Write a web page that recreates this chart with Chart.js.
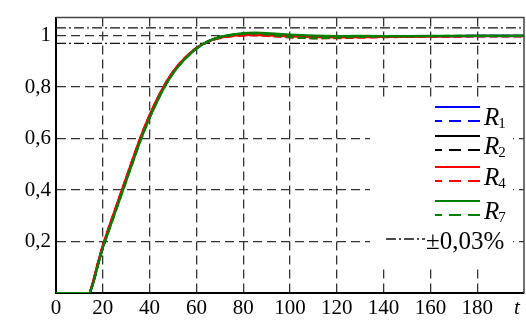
<!DOCTYPE html>
<html><head><meta charset="utf-8">
<script src="https://cdn.jsdelivr.net/npm/chart.js@4/dist/chart.umd.min.js"></script>
<style>html,body{margin:0;padding:0;background:#fff}canvas{display:block}</style>
</head><body>
<canvas id="c" width="526" height="323"></canvas>
<script>
// time axis samples
const tValues = [0,14.5,16,18,20,22.5,25,27.5,30,32.5,35,37.5,40,42.5,45,47.5,50,52.5,55,57.5,60,62.5,65,67.5,70,75,80,85,90,95,100,110,120,130,140,150,160,170,180,190,200];
const R1solid = [0,0,0.045,0.115,0.18,0.247,0.312,0.377,0.442,0.507,0.572,0.632,0.686,0.736,0.782,0.822,0.857,0.886,0.91,0.932,0.951,0.966,0.978,0.987,0.994,1.002,1.006,1.007,1.005,1.002,1.0,0.997,0.996,0.997,0.997,0.998,0.998,0.998,0.999,0.999,0.999];
const R1dashed = [0,0,0.045,0.115,0.18,0.247,0.312,0.377,0.442,0.507,0.572,0.632,0.686,0.736,0.782,0.822,0.857,0.886,0.91,0.932,0.951,0.965,0.977,0.986,0.992,1.0,1.004,1.005,1.003,1.0,0.997,0.994,0.994,0.995,0.996,0.997,0.998,0.998,0.998,0.998,0.998];
const R2solid = [0,0,0.045,0.115,0.18,0.247,0.312,0.377,0.442,0.507,0.572,0.632,0.686,0.736,0.782,0.822,0.857,0.886,0.91,0.932,0.951,0.966,0.978,0.987,0.994,1.002,1.007,1.008,1.006,1.003,1.0,0.997,0.996,0.997,0.997,0.998,0.998,0.998,0.999,0.999,0.999];
const R2dashed = [0,0,0.045,0.115,0.18,0.247,0.312,0.377,0.442,0.507,0.572,0.632,0.686,0.736,0.782,0.822,0.857,0.886,0.91,0.932,0.951,0.965,0.977,0.986,0.992,1.0,1.004,1.005,1.003,1.0,0.997,0.994,0.994,0.995,0.996,0.997,0.998,0.998,0.998,0.998,0.998];
const R4solid = [0,0,0.05,0.12,0.185,0.253,0.318,0.383,0.448,0.513,0.578,0.638,0.692,0.741,0.786,0.826,0.86,0.889,0.913,0.934,0.952,0.966,0.977,0.986,0.992,0.999,1.003,1.004,1.002,0.999,0.997,0.994,0.993,0.994,0.995,0.996,0.997,0.998,0.998,0.998,0.998];
const R4dashed = [0,0,0.05,0.12,0.185,0.253,0.318,0.383,0.448,0.513,0.578,0.638,0.692,0.741,0.786,0.826,0.86,0.889,0.913,0.934,0.952,0.965,0.975,0.984,0.99,0.997,1.0,1.001,0.999,0.996,0.993,0.99,0.99,0.992,0.994,0.995,0.997,0.997,0.998,0.998,0.998];
const R7solid = [0,0,0.04,0.11,0.175,0.24,0.305,0.37,0.435,0.5,0.565,0.625,0.68,0.73,0.777,0.818,0.853,0.883,0.908,0.93,0.95,0.966,0.978,0.988,0.995,1.004,1.01,1.012,1.01,1.007,1.004,1.0,0.998,0.999,0.998,0.998,0.999,0.999,0.999,0.999,0.999];
const R7dashed = [0,0,0.04,0.11,0.175,0.24,0.305,0.37,0.435,0.5,0.565,0.625,0.68,0.73,0.777,0.818,0.853,0.883,0.908,0.93,0.95,0.965,0.977,0.986,0.993,1.002,1.007,1.008,1.005,0.999,0.994,0.989,0.992,0.995,0.997,0.998,0.998,0.999,0.999,0.999,0.999];
// tolerance band ±0,03
const bandT = [0, 200];
const bandUpper = [1.03, 1.03];
const bandLower = [0.97, 0.97];
// ticks
const xTickValues = [0,20,40,60,80,100,120,140,160,180,197];
const xTickLabels = ['0','20','40','60','80','100','120','140','160','180','t'];
const yTickValues = [0.2,0.4,0.6,0.8,1.0];
const yTickLabels = ['0,2','0,4','0,6','0,8','1'];
const legendNames = ['1','2','4','7'];
const legendColors = ['#0000ff','#000000','#ff0000','#008000'];
const bandLabel = '±0,03%';

const pts = arr => arr.map((v,i)=>({x:tValues[i], y:v}));
const bandPts = arr => arr.map((v,i)=>({x:bandT[i], y:v}));
const DASH = [8,4];
const DASHDOT = [10,3,2,3];

function ds(data, color, dashed, order){
  return {data: pts(data), borderColor: color, borderWidth: 2.2, borderDash: dashed?DASH:[], pointRadius:0, tension:0, fill:false, order: order};
}

const datasets = [
  ds(R7solid,'#008000',false,0),
  ds(R7dashed,'#008000',true,1),
  ds(R4solid,'#ff0000',false,2),
  ds(R4dashed,'#ff0000',true,3),
  ds(R2solid,'#000000',false,4),
  ds(R2dashed,'#000000',true,5),
  ds(R1solid,'#0000ff',false,6),
  ds(R1dashed,'#0000ff',true,7),
  {data: bandPts(bandUpper), borderColor:'#111', borderWidth:1.3, borderDash:DASHDOT, pointRadius:0, order:8},
  {data: bandPts(bandLower), borderColor:'#111', borderWidth:1.3, borderDash:DASHDOT, pointRadius:0, order:9}
];

const FONT = 'Liberation Serif';

const maskPlugin = {
  id:'mask',
  beforeDatasetsDraw(chart){
    const c = chart.ctx;
    c.save();
    c.fillStyle = '#fff';
    c.fillRect(370, 97, 143, 169);
    c.restore();
  }
};

const legendPlugin = {
  id:'customLegend',
  afterDraw(chart){
    const c = chart.ctx;
    c.save();
    const rowY = [107, 136, 167, 201];
    for (let i=0;i<4;i++){
      const y = rowY[i];
      c.strokeStyle = legendColors[i];
      c.lineWidth = 2;
      c.setLineDash([]);
      c.beginPath(); c.moveTo(435, y); c.lineTo(480, y); c.stroke();
      c.setLineDash([12,7]);
      c.lineDashOffset = 5;
      c.beginPath(); c.moveTo(435, y+14); c.lineTo(480, y+14); c.stroke();
      c.lineDashOffset = 0;
      c.setLineDash([]);
      c.fillStyle = '#000';
      c.textBaseline = 'alphabetic';
      c.textAlign = 'left';
      c.font = 'italic 25px "' + FONT + '"';
      c.fillText('R', 484, y+18);
      const w = c.measureText('R').width;
      c.font = '15px "' + FONT + '"';
      c.fillText(legendNames[i], 483 + w, y+21);
    }
    // band legend
    c.strokeStyle = '#111';
    c.lineWidth = 1.3;
    c.setLineDash(DASHDOT);
    c.beginPath(); c.moveTo(386, 239); c.lineTo(425, 239); c.stroke();
    c.setLineDash([]);
    c.font = '25px "' + FONT + '"';
    c.fillStyle = '#000';
    c.fillText(bandLabel, 426, 249);
    // frame top/right
    const a = chart.chartArea;
    c.strokeStyle = '#444';
    c.lineWidth = 1.5;
    c.beginPath();
    c.moveTo(a.left, a.top); c.lineTo(a.right, a.top); c.lineTo(a.right, a.bottom);
    c.stroke();
    c.restore();
  }
};

new Chart(document.getElementById('c'), {
  type:'line',
  data:{datasets},
  options:{
    responsive:false,
    animation:false,
    layout:{padding:{top:9, right:2, left:0, bottom:0}},
    plugins:{legend:{display:false}, tooltip:{enabled:false}},
    scales:{
      x:{
        type:'linear', min:0, max:200,
        afterBuildTicks(s){ s.ticks = xTickValues.map(v=>({value:v})); },
        afterFit(s){ s.height = 30; },
        ticks:{
          callback:(v,i)=>xTickLabels[i],
          color:'#000', padding:3, maxRotation:0, autoSkip:false,
          font:(ctx)=>({family:FONT, size:21, style: (ctx.index===xTickLabels.length-1)?'italic':'normal'})
        },
        grid:{
          drawTicks:false, lineWidth:1.3,
          color:(ctx)=>{ const v = ctx.tick && ctx.tick.value; return (v===0 || v===197) ? 'rgba(0,0,0,0)' : '#333'; }
        },
        border:{display:true, color:'#000', width:2, dash:[9,5]}
      },
      y:{
        type:'linear', min:0, max:1.07,
        afterBuildTicks(s){ s.ticks = yTickValues.map(v=>({value:v})); },
        afterFit(s){ s.width = 56; },
        ticks:{ callback:(v,i)=>yTickLabels[i], color:'#000', padding:5, font:{family:FONT, size:21}},
        grid:{ drawTicks:false, lineWidth:1.3, color:'#333' },
        border:{display:true, color:'#000', width:2, dash:[9,5]}
      }
    }
  },
  plugins:[maskPlugin, legendPlugin]
});
</script>
</body></html>
